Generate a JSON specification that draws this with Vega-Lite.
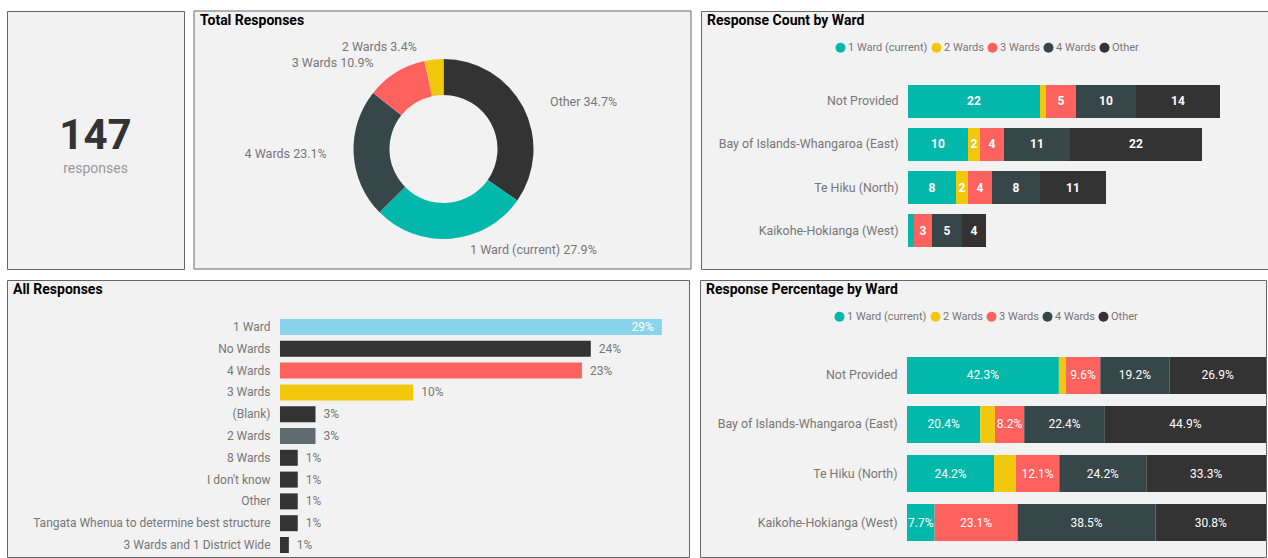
{
  "$schema": "https://vega.github.io/schema/vega-lite/v6.json",
  "padding": {"left": 6, "top": 10, "right": 0, "bottom": 0},
  "background": "#ffffff",
  "datasets": {
    "card": [
      {"card": "Total", "item": "value", "text": "147"},
      {"card": "Total", "item": "caption", "text": "responses"}
    ],
    "totals": [
      {"option": "Other", "responses": 51, "label": "Other 34.7%"},
      {"option": "1 Ward (current)", "responses": 41, "label": "1 Ward (current) 27.9%"},
      {"option": "4 Wards", "responses": 34, "label": "4 Wards 23.1%"},
      {"option": "3 Wards", "responses": 16, "label": "3 Wards 10.9%"},
      {"option": "2 Wards", "responses": 5, "label": "2 Wards 3.4%"}
    ],
    "wards": [
      {"ward": "Not Provided", "option": "1 Ward (current)", "responses": 22, "share": 0.423},
      {"ward": "Not Provided", "option": "2 Wards", "responses": 1, "share": 0.019},
      {"ward": "Not Provided", "option": "3 Wards", "responses": 5, "share": 0.096},
      {"ward": "Not Provided", "option": "4 Wards", "responses": 10, "share": 0.192},
      {"ward": "Not Provided", "option": "Other", "responses": 14, "share": 0.269},
      {"ward": "Bay of Islands-Whangaroa (East)", "option": "1 Ward (current)", "responses": 10, "share": 0.204},
      {"ward": "Bay of Islands-Whangaroa (East)", "option": "2 Wards", "responses": 2, "share": 0.041},
      {"ward": "Bay of Islands-Whangaroa (East)", "option": "3 Wards", "responses": 4, "share": 0.082},
      {"ward": "Bay of Islands-Whangaroa (East)", "option": "4 Wards", "responses": 11, "share": 0.224},
      {"ward": "Bay of Islands-Whangaroa (East)", "option": "Other", "responses": 22, "share": 0.449},
      {"ward": "Te Hiku (North)", "option": "1 Ward (current)", "responses": 8, "share": 0.242},
      {"ward": "Te Hiku (North)", "option": "2 Wards", "responses": 2, "share": 0.061},
      {"ward": "Te Hiku (North)", "option": "3 Wards", "responses": 4, "share": 0.121},
      {"ward": "Te Hiku (North)", "option": "4 Wards", "responses": 8, "share": 0.242},
      {"ward": "Te Hiku (North)", "option": "Other", "responses": 11, "share": 0.333},
      {"ward": "Kaikohe-Hokianga (West)", "option": "1 Ward (current)", "responses": 1, "share": 0.077},
      {"ward": "Kaikohe-Hokianga (West)", "option": "2 Wards", "responses": 0, "share": 0},
      {"ward": "Kaikohe-Hokianga (West)", "option": "3 Wards", "responses": 3, "share": 0.231},
      {"ward": "Kaikohe-Hokianga (West)", "option": "4 Wards", "responses": 5, "share": 0.385},
      {"ward": "Kaikohe-Hokianga (West)", "option": "Other", "responses": 4, "share": 0.308}
    ],
    "all": [
      {"answer": "1 Ward", "responses": 43, "share": 0.29},
      {"answer": "No Wards", "responses": 35, "share": 0.24},
      {"answer": "4 Wards", "responses": 34, "share": 0.23},
      {"answer": "3 Wards", "responses": 15, "share": 0.10},
      {"answer": "(Blank)", "responses": 4, "share": 0.03},
      {"answer": "2 Wards", "responses": 4, "share": 0.03},
      {"answer": "8 Wards", "responses": 2, "share": 0.01},
      {"answer": "I don't know", "responses": 2, "share": 0.01},
      {"answer": "Other", "responses": 2, "share": 0.01},
      {"answer": "Tangata Whenua to determine best structure", "responses": 2, "share": 0.01},
      {"answer": "3 Wards and 1 District Wide", "responses": 1, "share": 0.01}
    ]
  },
  "spacing": 9,
  "resolve": {"scale": {"color": "independent", "x": "independent", "y": "independent"}, "legend": {"color": "independent"}},
  "vconcat": [
    {
      "spacing": 8,
      "resolve": {"scale": {"color": "independent", "x": "independent", "y": "independent"}, "legend": {"color": "independent"}},
      "hconcat": [
        {
          "width": 177,
          "height": 258,
          "data": {"name": "card"},
          "encoding": {
            "x": {"field": "card", "type": "nominal", "axis": null},
            "y": {"field": "item", "type": "nominal", "axis": null, "scale": {"type": "point", "domain": ["value", "caption"], "range": [125, 158], "padding": 0}},
            "text": {"field": "text", "type": "nominal"}
          },
          "layer": [
            {"transform": [{"filter": "datum.item == 'value'"}], "mark": {"type": "text", "fontSize": 42, "fontWeight": "bold", "color": "#333333", "baseline": "middle"}},
            {"transform": [{"filter": "datum.item == 'caption'"}], "mark": {"type": "text", "fontSize": 14, "color": "#9a9a9a", "baseline": "middle"}}
          ]
        },
        {
          "width": 497,
          "height": 258,
          "title": {"text": "Total Responses"},
          "data": {"name": "totals"},
          "layer": [
            {"data": {"values": [{"panel": "Total Responses"}]},
             "mark": {"type": "rect", "fill": "#f2f2f2", "stroke": "#666666", "strokeWidth": 1},
             "encoding": {}},
            {"mark": {"type": "arc", "innerRadius": 54, "outerRadius": 90, "xOffset": 1, "yOffset": 9},
             "encoding": {
               "theta": {"field": "responses", "type": "quantitative", "stack": true},
               "order": {"field": "responses", "type": "quantitative", "sort": "descending"},
               "color": {"field": "option", "type": "nominal", "legend": null,
                 "scale": {"domain": ["Other", "1 Ward (current)", "4 Wards", "3 Wards", "2 Wards"], "range": ["#333333", "#01B8AA", "#374649", "#FD625E", "#F2C80F"]}}}},
            {"mark": {"type": "text", "radius": 110, "align": "left", "baseline": "middle", "dx": 9, "dy": 4, "xOffset": 1, "yOffset": 9, "fontSize": 12.5, "color": "#777777"},
             "encoding": {
               "theta": {"field": "responses", "type": "quantitative", "stack": true},
               "order": {"field": "responses", "type": "quantitative", "sort": "descending"},
               "detail": {"field": "option", "type": "nominal"},
               "text": {"condition": {"test": "datum.option == 'Other'", "field": "label", "type": "nominal"}, "value": ""}}},
            {"mark": {"type": "text", "radius": 100, "align": "left", "baseline": "middle", "dx": 18, "dy": 1, "xOffset": 1, "yOffset": 9, "fontSize": 12.5, "color": "#777777"},
             "encoding": {
               "theta": {"field": "responses", "type": "quantitative", "stack": true},
               "order": {"field": "responses", "type": "quantitative", "sort": "descending"},
               "detail": {"field": "option", "type": "nominal"},
               "text": {"condition": {"test": "datum.option == '1 Ward (current)'", "field": "label", "type": "nominal"}, "value": ""}}},
            {"mark": {"type": "text", "radius": 110, "align": "right", "baseline": "middle", "dx": -7, "dy": -1, "xOffset": 1, "yOffset": 9, "fontSize": 12.5, "color": "#777777"},
             "encoding": {
               "theta": {"field": "responses", "type": "quantitative", "stack": true},
               "order": {"field": "responses", "type": "quantitative", "sort": "descending"},
               "detail": {"field": "option", "type": "nominal"},
               "text": {"condition": {"test": "datum.option == '4 Wards'", "field": "label", "type": "nominal"}, "value": ""}}},
            {"mark": {"type": "text", "radius": 100, "align": "right", "baseline": "middle", "dx": -17, "dy": -1, "xOffset": 1, "yOffset": 9, "fontSize": 12.5, "color": "#777777"},
             "encoding": {
               "theta": {"field": "responses", "type": "quantitative", "stack": true},
               "order": {"field": "responses", "type": "quantitative", "sort": "descending"},
               "detail": {"field": "option", "type": "nominal"},
               "text": {"condition": {"test": "datum.option == '3 Wards'", "field": "label", "type": "nominal"}, "value": ""}}},
            {"mark": {"type": "text", "radius": 100, "align": "right", "baseline": "middle", "dx": -16, "dy": -3, "xOffset": 1, "yOffset": 9, "fontSize": 12.5, "color": "#777777"},
             "encoding": {
               "theta": {"field": "responses", "type": "quantitative", "stack": true},
               "order": {"field": "responses", "type": "quantitative", "sort": "descending"},
               "detail": {"field": "option", "type": "nominal"},
               "text": {"condition": {"test": "datum.option == '2 Wards'", "field": "label", "type": "nominal"}, "value": ""}}}
          ]
        },
        {
          "width": 567,
          "height": 258,
          "title": {"text": "Response Count by Ward"},
          "data": {"name": "wards"},
          "encoding": {
            "y": {"field": "ward", "type": "nominal",
              "sort": ["Not Provided", "Bay of Islands-Whangaroa (East)", "Te Hiku (North)", "Kaikohe-Hokianga (West)"],
              "scale": {"range": [74, 236], "paddingInner": 0.2326, "paddingOuter": 0},
              "axis": {"title": null, "domain": false, "ticks": false, "offset": -207, "labelPadding": 10, "labelFontSize": 12.4, "labelColor": "#777777", "labelLimit": 300}},
            "x": {"field": "responses", "type": "quantitative", "stack": "zero", "scale": {"domain": [-34.5, 60], "nice": false, "zero": false}, "axis": null},
            "order": {"field": "option", "type": "nominal", "sort": "ascending"}
          },
          "layer": [
            {"mark": {"type": "bar"},
             "encoding": {"color": {"field": "option", "type": "nominal",
               "scale": {"domain": ["1 Ward (current)", "2 Wards", "3 Wards", "4 Wards", "Other"], "range": ["#01B8AA", "#F2C80F", "#FD625E", "#374649", "#333333"]},
               "legend": {"orient": "none", "legendX": 134, "legendY": 31, "direction": "horizontal", "title": null, "symbolType": "circle", "symbolSize": 100, "symbolStrokeWidth": 0, "labelFontSize": 11, "labelColor": "#777777", "labelOffset": 2, "columnPadding": 3}}}},
            {"mark": {"type": "text", "color": "#ffffff", "fontWeight": "bold", "fontSize": 12, "baseline": "middle"},
             "encoding": {
               "x": {"field": "responses", "type": "quantitative", "stack": "zero", "bandPosition": 0.5},
               "detail": {"field": "option", "type": "nominal"},
               "text": {"condition": {"test": "datum.responses >= 2", "field": "responses", "type": "quantitative"}, "value": ""}}}
          ]
        }
      ]
    },
    {
      "spacing": 9,
      "resolve": {"scale": {"color": "independent", "x": "independent", "y": "independent"}, "legend": {"color": "independent"}},
      "hconcat": [
        {
          "width": 682,
          "height": 277,
          "title": {"text": "All Responses"},
          "data": {"name": "all"},
          "encoding": {
            "y": {"field": "answer", "type": "nominal",
              "sort": ["1 Ward", "No Wards", "4 Wards", "3 Wards", "(Blank)", "2 Wards", "8 Wards", "I don't know", "Other", "Tangata Whenua to determine best structure", "3 Wards and 1 District Wide"],
              "scale": {"range": [39, 273], "paddingInner": 0.266, "paddingOuter": 0},
              "axis": {"title": null, "domain": false, "ticks": false, "offset": -273, "labelPadding": 10, "labelFontSize": 12, "labelColor": "#777777", "labelLimit": 300}},
            "x": {"field": "responses", "type": "quantitative", "scale": {"domain": [-30.74, 46.06], "nice": false, "zero": false}, "axis": null}
          },
          "layer": [
            {"mark": {"type": "bar"},
             "encoding": {"color": {"field": "answer", "type": "nominal", "legend": null,
               "scale": {"domain": ["1 Ward", "No Wards", "4 Wards", "3 Wards", "(Blank)", "2 Wards", "8 Wards", "I don't know", "Other", "Tangata Whenua to determine best structure", "3 Wards and 1 District Wide"],
                         "range": ["#8AD4EB", "#333333", "#FD625E", "#F2C80F", "#333333", "#5F6B6D", "#333333", "#333333", "#333333", "#333333", "#333333"]}}}},
            {"transform": [{"filter": "datum.responses < 40"}],
             "mark": {"type": "text", "align": "left", "baseline": "middle", "dx": 8, "fontSize": 12, "color": "#777777"},
             "encoding": {"text": {"field": "share", "type": "quantitative", "format": ".0%"}}},
            {"transform": [{"filter": "datum.responses >= 40"}],
             "mark": {"type": "text", "align": "right", "baseline": "middle", "dx": -8, "fontSize": 12, "color": "#ffffff"},
             "encoding": {"text": {"field": "share", "type": "quantitative", "format": ".0%"}}}
          ]
        },
        {
          "width": 566,
          "height": 277,
          "title": {"text": "Response Percentage by Ward"},
          "data": {"name": "wards"},
          "encoding": {
            "y": {"field": "ward", "type": "nominal",
              "sort": ["Not Provided", "Bay of Islands-Whangaroa (East)", "Te Hiku (North)", "Kaikohe-Hokianga (West)"],
              "scale": {"range": [77, 261], "paddingInner": 0.245, "paddingOuter": 0},
              "axis": {"title": null, "domain": false, "ticks": false, "offset": -207, "labelPadding": 10, "labelFontSize": 12.4, "labelColor": "#777777", "labelLimit": 300}},
            "x": {"field": "responses", "type": "quantitative", "stack": "normalize", "scale": {"domain": [-0.5766, 1], "nice": false, "zero": false}, "axis": null},
            "order": {"field": "option", "type": "nominal", "sort": "ascending"}
          },
          "layer": [
            {"mark": {"type": "bar"},
             "encoding": {"color": {"field": "option", "type": "nominal",
               "scale": {"domain": ["1 Ward (current)", "2 Wards", "3 Wards", "4 Wards", "Other"], "range": ["#01B8AA", "#F2C80F", "#FD625E", "#374649", "#333333"]},
               "legend": {"orient": "none", "legendX": 134, "legendY": 31, "direction": "horizontal", "title": null, "symbolType": "circle", "symbolSize": 100, "symbolStrokeWidth": 0, "labelFontSize": 11, "labelColor": "#777777", "labelOffset": 2, "columnPadding": 3}}}},
            {"mark": {"type": "text", "color": "#ffffff", "fontSize": 12, "baseline": "middle"},
             "encoding": {
               "x": {"field": "responses", "type": "quantitative", "stack": "normalize", "bandPosition": 0.5},
               "detail": {"field": "option", "type": "nominal"},
               "text": {"condition": {"test": "datum.share >= 0.07", "field": "share", "type": "quantitative", "format": ".1%"}, "value": ""}}}
          ]
        }
      ]
    }
  ],
  "config": {
    "font": "Roboto",
    "view": {"fill": "#f2f2f2", "stroke": "#666666", "strokeWidth": 1},
    "title": {"anchor": "start", "frame": "group", "fontSize": 14, "fontWeight": "bold", "color": "#000000", "offset": -17, "baseline": "middle", "dx": 6},
    "axis": {"labelFont": "Roboto"},
    "legend": {"labelFont": "Roboto"}
  }
}
